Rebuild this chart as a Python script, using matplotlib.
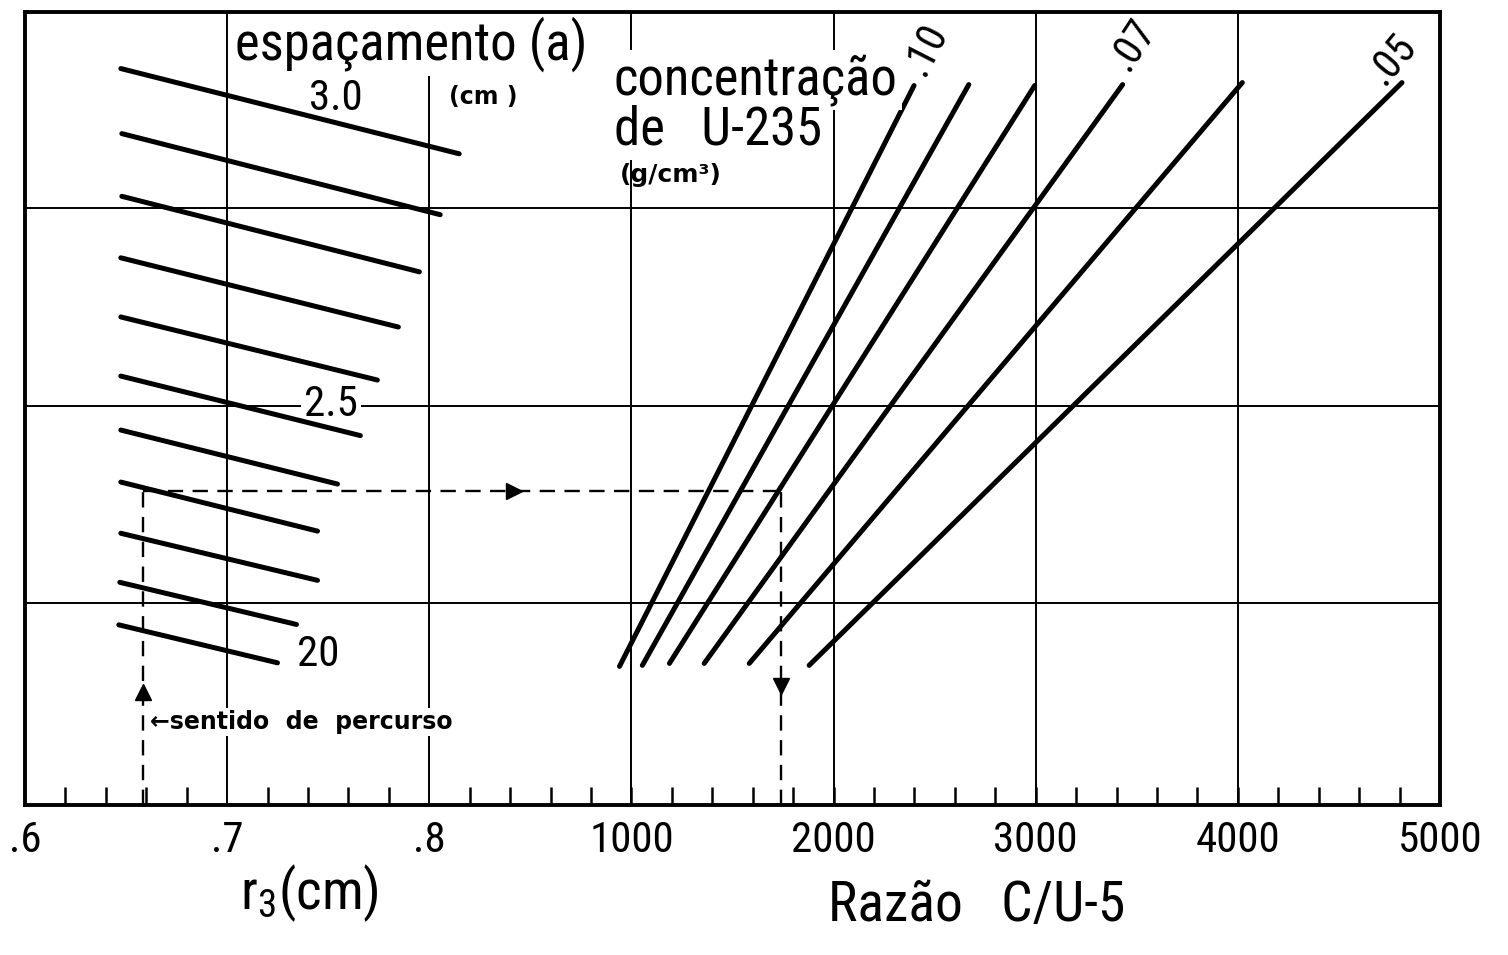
import numpy as np
import matplotlib
matplotlib.use('Agg')
import matplotlib.pyplot as plt
from matplotlib import font_manager

# espaçamento (a) lines, 3.0 ... 2.0 cm: r3 (cm) and nomogram height at both ends
a_vals = [3.0, 2.9, 2.8, 2.7, 2.6, 2.5, 2.4, 2.3, 2.2, 2.1, 2.0]
a_r_start = [0.6474, 0.6479, 0.6479, 0.6474, 0.6474, 0.6474, 0.6474, 0.6474, 0.6474, 0.6469, 0.6464]
a_r_end = [0.8148, 0.8054, 0.7951, 0.7847, 0.7743, 0.7659, 0.7546, 0.7447, 0.7447, 0.7343, 0.7249]
a_y_start = [3.704, 3.375, 3.058, 2.747, 2.448, 2.149, 1.876, 1.613, 1.354, 1.106, 0.891]
a_y_end = [3.273, 2.965, 2.676, 2.397, 2.129, 1.848, 1.603, 1.365, 1.116, 0.893, 0.699]
a_labels = {3.0: '3.0', 2.5: '2.5', 2.0: '20'}

# concentração de U-235 lines (g/cm3): razão C/U-5 at both ends
conc_vals = [0.10, 0.09, 0.08, 0.07, 0.06, 0.05]
cu_start = [941, 1054, 1188, 1360, 1583, 1879]
cu_end = [2398, 2669, 2995, 3430, 4022, 4812]
c_y_start = [0.681, 0.686, 0.696, 0.696, 0.696, 0.686]
c_y_end = [3.618, 3.623, 3.618, 3.623, 3.633, 3.633]

# worked example (dashed path)
ex_r = 0.6583
ex_cu = 1741
ex_y = 1.567

r_ticks = [0.6, 0.7, 0.8]
r_ticklabels = ['.6', '.7', '.8']
cu_ticks = [1000, 2000, 3000, 4000, 5000]
cu_ticklabels = ['1000', '2000', '3000', '4000', '5000']

installed = {f.name for f in font_manager.fontManager.ttflist}
LETTER = 'DejaVu Sans'
for cand in ['Liberation Sans Narrow', 'Roboto Condensed', 'Open Sans Condensed', 'Noto Sans Condensed']:
    if cand in installed:
        LETTER = cand
        break
SMALL = 'DejaVu Sans'
plt.rcParams['font.family'] = [LETTER, 'DejaVu Sans']
plt.rcParams['mathtext.default'] = 'regular'

W, H = 1508, 955
fig = plt.figure(figsize=(W / 100, H / 100), dpi=100)
ax = fig.add_axes([25 / W, 150 / H, 1415 / W, 793 / H])
ax.set_xlim(0.6, 1.3)
ax.set_ylim(-0.02, 3.99)

# grid
for x in [0.7, 0.8]:
    ax.axvline(x, color='black', lw=1.4, zorder=1)
for y in [1, 2, 3]:
    ax.axhline(y, color='black', lw=1.4, zorder=1)

ax.set_xticks(r_ticks)
ax.set_xticklabels(r_ticklabels)
ax.set_xticks(np.arange(0.62, 1.29, 0.02), minor=True)
ax.set_yticks([])
ax.tick_params(axis='x', which='major', length=0, pad=11, labelsize=31)
ax.tick_params(axis='x', which='minor', direction='in', length=13, width=1.8)
for s in ax.spines.values():
    s.set_linewidth(2.8)
    s.set_zorder(6)

for i in range(len(a_vals)):
    ax.plot([a_r_start[i], a_r_end[i]], [a_y_start[i], a_y_end[i]],
            color='black', lw=3.6, solid_capstyle='round', zorder=4)

# second scale: razão C/U-5 on the same frame
ax2 = ax.twiny()
ax2.set_xlim(-2000, 5000)
ax2.set_ylim(ax.get_ylim())
for s in ax2.spines.values():
    s.set_visible(False)
ax2.xaxis.set_ticks_position('bottom')
ax2.set_xticks(cu_ticks)
ax2.set_xticklabels(cu_ticklabels)
ax2.tick_params(axis='x', length=0, pad=11, labelsize=31, labelbottom=True, labeltop=False)
for c in cu_ticks[:-1]:
    ax2.axvline(c, color='black', lw=1.4, zorder=1)

for i in range(len(conc_vals)):
    ax2.plot([cu_start[i], cu_end[i]], [c_y_start[i], c_y_end[i]],
             color='black', lw=3.6, solid_capstyle='round', zorder=4)

# draw the r3 axes (texts, frame) over the C/U one
ax.set_zorder(2)
ax.patch.set_visible(False)

# dashed example path
dash = (0, (6.5, 4))
ax.plot([ex_r, ex_r], [ax.get_ylim()[0], ex_y], color='black', lw=1.7, ls=dash, zorder=2)
ax2.plot([ex_cu, ex_cu], [ax.get_ylim()[0], ex_y], color='black', lw=1.7, ls=dash, zorder=2)
ax2.plot([(ex_r - 0.9) * 10000 + 1000, ex_cu], [ex_y, ex_y], color='black', lw=1.7, ls=dash, zorder=2)
ax.plot(0.842, ex_y, marker='>', ms=12, color='black', zorder=5)
ax.plot(ex_r, 0.55, marker='^', ms=11, color='black', zorder=5)
ax2.plot(ex_cu, 0.58, marker='v', ms=11, color='black', zorder=5)


def label(x, y, s, size, **kw):
    ax.text(x / W, 1 - y / H, s, transform=fig.transFigure, fontsize=size,
            ha=kw.pop('ha', 'center'), va='center', zorder=3, **kw)


white = dict(facecolor='white', edgecolor='none', boxstyle='square,pad=0.08')
label(411, 44, 'espaçamento (a)', 38, bbox=white)
label(483, 97, '(cm )', 17, family=SMALL, weight='bold')
label(336, 98, a_labels[3.0], 31)
label(331, 404, a_labels[2.5], 31, bbox=white)
label(318, 655, a_labels[2.0], 31)
label(614, 80, 'concentração', 38, ha='left', bbox=white)
label(614, 130, 'de   U-235', 38, ha='left', bbox=white)
label(620, 175, '(g/cm³)', 18, ha='left', family=SMALL, weight='bold')
label(150, 722, '←sentido  de  percurso', 17, ha='left', family=SMALL, weight='bold', bbox=white)
label(926, 50, '.10', 30, rotation=63, rotation_mode='anchor')
label(1133, 45, '.07', 30, rotation=57, rotation_mode='anchor')
label(1392, 60, '.05', 30, rotation=50, rotation_mode='anchor')
label(240, 893, 'r$_3$(cm)', 40, ha='left')
label(977, 905, 'Razão   C/U-5', 40)

fig.savefig('out.png', dpi=100)
